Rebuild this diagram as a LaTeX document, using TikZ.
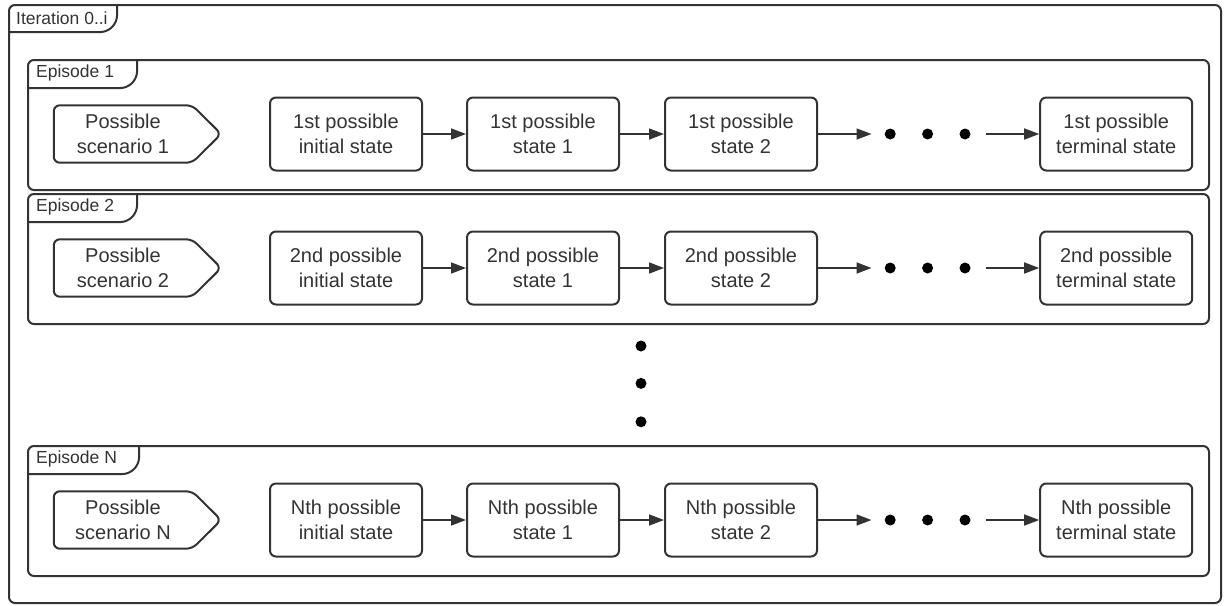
\documentclass[tikz,border=0pt]{standalone}
\usepackage{fontspec}
\setmainfont{Liberation Sans}
\usepackage{tikz}
\usetikzlibrary{arrows.meta, positioning, calc}
\definecolor{mygray}{RGB}{51,51,51}
\newcommand{\tabfont}{\fontsize{17.5}{21}\selectfont}
\newcommand{\boxfont}{\fontsize{20}{25}\selectfont}

\begin{document}
\begin{tikzpicture}[x=1pt, y=-1pt, font=\boxfont, text=mygray,
  epline/.style={draw=mygray, line width=2pt, rounded corners=6pt},
  tablabel/.style={anchor=west, inner sep=0pt, font=\tabfont},
  state/.style={draw=mygray, line width=2pt, rounded corners=6pt, minimum width=152pt, minimum height=73pt, align=center},
  dot/.style={circle, fill=black, inner sep=0pt, minimum size=11pt},
  arr/.style={draw=mygray, line width=1.6pt, -{Triangle[length=15pt, width=11pt]}}]
\useasboundingbox (0,0) rectangle (1225,605);

% outer iteration frame
\node[epline, anchor=north west, minimum width=1212pt, minimum height=598pt] (outer) at (8,4) {};
\node[tablabel] (itlab) at ($(outer.north west)+(8,14)$) {Iteration 0..i};
\draw[epline] ($(outer.north west)+(0,28)$) -- ++(99,0) -- ++(10,-10) -- ($(outer.north west)+(109,0)$);

% one episode per row
\foreach \i/\ytop/\ep/\ord/\tw in {1/59/1/1st/110, 2/193/2/2nd/110, 3/445/N/Nth/112}{
  \node[epline, anchor=north west, minimum width=1181pt, minimum height=130pt] (ep\i) at (27,\ytop) {};
  \node[tablabel] (tab\i) at ($(ep\i.north west)+(9,14)$) {Episode \ep};
  \draw[epline] ($(ep\i.north west)+(0,29)$) -- ++(\tw-10,0) -- ++(10,-10) -- ($(ep\i.north west)+(\tw,0)$);

  \node[state] (init\i) at ($(ep\i.north west)+(319,75)$) {\ord{} possible\\initial state};
  \node[state, right=43pt of init\i] (sa\i) {\ord{} possible\\state 1};
  \node[state, right=44pt of sa\i] (sb\i) {\ord{} possible\\state 2};
  \node[dot, right=66.5pt of sb\i] (da\i) {};
  \node[dot, right=26pt of da\i] (db\i) {};
  \node[dot, right=26pt of db\i] (dc\i) {};
  \node[state, right=68.5pt of dc\i] (term\i) {\ord{} possible\\terminal state};

  \node[minimum width=138pt, minimum height=57pt, align=center, inner sep=0pt] (sc\i) at ($(init\i.west)+(-146,0)$) {Possible\\scenario \ep};
  \draw[epline] (sc\i.north west) -- (sc\i.north east) -- ($(sc\i.east)+(29,0)$) -- (sc\i.south east) -- (sc\i.south west) -- cycle;

  \draw[arr] (init\i) -- (sa\i);
  \draw[arr] (sa\i) -- (sb\i);
  \draw[arr, shorten >=13pt] (sb\i) -- (da\i);
  \draw[arr, shorten <=15pt] (dc\i) -- (term\i);
}

% episodes left out
\node[dot] (va) at (641,346) {};
\node[dot, below=26pt of va] (vb) {};
\node[dot, below=27pt of vb] (vc) {};
\end{tikzpicture}
\end{document}
